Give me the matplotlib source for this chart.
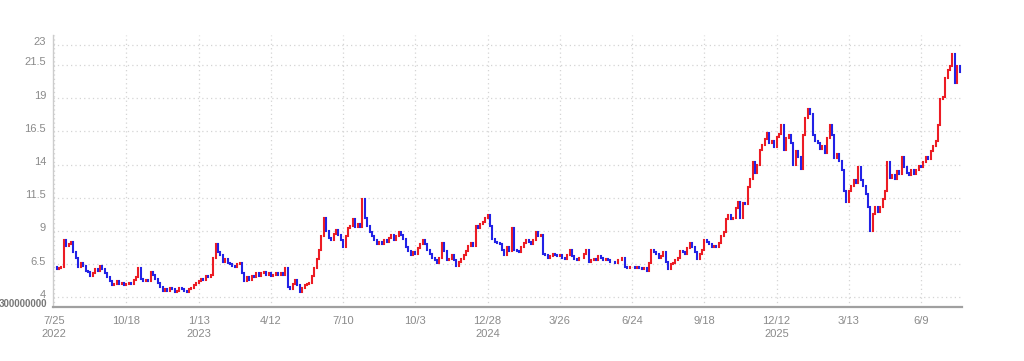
import matplotlib
matplotlib.use("Agg")
import matplotlib.pyplot as plt
import matplotlib.transforms as mtransforms
import numpy as np

plt.rcParams['font.family'] = ['Liberation Sans', 'DejaVu Sans']

# closing prices, one every 2 trading days starting 7/25/2022
closes = [
    6.3, 6.1, 6.2, 6.3, 8.3, 7.9, 8.0, 8.2, 7.4, 7.0,
    6.3, 6.6, 6.4, 6.0, 5.9, 5.6, 5.8, 6.1, 6.0, 6.4,
    6.1, 5.8, 5.5, 5.2, 4.9, 5.0, 5.2, 5.0, 5.1, 4.9,
    5.0, 5.1, 5.0, 5.3, 5.5, 6.2, 5.4, 5.2, 5.3, 5.2,
    5.9, 5.7, 5.4, 5.1, 4.8, 4.5, 4.6, 4.5, 4.7, 4.6,
    4.4, 4.5, 4.7, 4.6, 4.5, 4.4, 4.6, 4.7, 4.9, 5.1,
    5.2, 5.4, 5.3, 5.6, 5.5, 5.7, 7.0, 8.0, 7.4, 7.2,
    6.7, 6.9, 6.6, 6.5, 6.4, 6.3, 6.5, 6.6, 5.8, 5.2,
    5.5, 5.3, 5.6, 5.5, 5.8, 5.6, 5.8, 5.9, 5.7, 5.8,
    5.6, 5.7, 5.8, 5.7, 5.8, 5.7, 6.2, 4.8, 4.6, 5.0,
    5.3, 4.9, 4.4, 4.7, 4.9, 5.0, 5.1, 5.6, 6.2, 6.9,
    7.6, 8.6, 10.0, 9.0, 8.5, 8.3, 8.8, 9.1, 8.7, 8.3,
    7.8, 8.6, 9.2, 9.4, 9.9, 9.3, 9.5, 9.3, 11.4, 10.0,
    9.4, 8.9, 8.6, 8.3, 8.0, 8.2, 8.0, 8.3, 8.2, 8.5,
    8.7, 8.3, 8.6, 8.9, 8.7, 8.4, 7.8, 7.5, 7.2, 7.4,
    7.3, 7.7, 8.0, 8.3, 8.0, 7.6, 7.3, 7.0, 6.8, 6.6,
    7.0, 8.1, 7.5, 6.8, 6.9, 7.2, 6.8, 6.4, 6.7, 6.9,
    7.2, 7.5, 7.9, 8.1, 7.9, 9.4, 9.2, 9.5, 9.7, 10.0,
    10.2, 9.4, 8.4, 8.2, 8.1, 8.0, 7.6, 7.2, 7.8, 7.5,
    9.2, 7.6, 7.5, 7.4, 7.8, 8.1, 8.3, 8.2, 8.0, 8.3,
    8.9, 8.6, 8.7, 7.3, 7.2, 7.0, 7.1, 7.3, 7.2, 7.1,
    7.2, 7.0, 6.9, 7.2, 7.6, 7.1, 6.9, 6.8, 7.0, 7.0,
    7.3, 7.6, 6.7, 6.8, 6.9, 6.8, 7.1, 7.0, 6.8, 6.9,
    6.8, 6.7, 6.7, 6.6, 6.8, 6.8, 7.0, 6.3, 6.2, 6.3,
    6.3, 6.2, 6.3, 6.2, 6.1, 6.2, 6.0, 6.6, 7.6, 7.4,
    7.3, 7.0, 7.1, 7.4, 6.7, 6.1, 6.5, 6.6, 6.8, 7.0,
    7.5, 7.4, 7.3, 7.7, 8.1, 7.8, 7.4, 6.9, 7.3, 7.6,
    8.3, 8.2, 8.0, 7.8, 7.9, 7.8, 8.1, 8.6, 8.9, 9.9,
    10.2, 9.9, 10.0, 10.7, 11.2, 10.0, 11.1, 11.0, 12.3, 12.9,
    14.2, 13.4, 14.0, 15.1, 15.5, 15.9, 16.4, 15.6, 15.8, 15.3,
    16.1, 16.3, 17.0, 15.1, 16.0, 16.2, 15.6, 14.0, 15.0, 14.6,
    13.7, 16.2, 17.5, 18.2, 17.8, 16.2, 15.8, 15.6, 15.2, 15.4,
    14.9, 16.0, 17.0, 16.2, 14.5, 14.8, 14.3, 13.6, 12.0, 11.2,
    12.0, 12.4, 12.8, 12.6, 13.8, 12.8, 12.4, 11.8, 10.8, 9.0,
    10.3, 10.8, 10.4, 10.8, 11.4, 12.0, 14.2, 13.0, 13.2, 12.9,
    13.5, 13.3, 14.6, 13.8, 13.4, 13.2, 13.6, 13.3, 13.6, 13.9,
    13.8, 14.2, 14.6, 14.4, 15.0, 15.4, 15.8, 17.0, 18.9, 19.1,
    20.5, 21.1, 21.4, 22.3, 20.1, 21.4, 21.0,
]
tick_labels = ['7/25\n2022', '10/18', '1/13\n2023', '4/12', '7/10', '10/3',
               '12/28\n2024', '3/26', '6/24', '9/18', '12/12\n2025', '3/13', '6/9']
y_ticks = [4, 6.5, 9, 11.5, 14, 16.5, 19, 21.5, 23]

closes = np.array(closes)
opens = np.concatenate([[closes[0]], closes[:-1]])
idx = np.arange(len(closes)) * 2
up = closes >= opens

fig = plt.figure(figsize=(10.24, 3.61), dpi=100)
ax = fig.add_axes([53 / 1024, 54.3 / 361, 909 / 1024, 271.7 / 361])

for mask, col in [(up, '#ec1c24'), (~up, '#2222e6')]:
    lc = ax.vlines(idx[mask], opens[mask], closes[mask], colors=col, linewidth=1.5)
    lc.set_capstyle('projecting')

ax.set_xlim(-1, 754)
ax.set_ylim(3.3, 23.75)
ax.set_xticks(np.arange(len(tick_labels)) * 60)
ax.set_xticklabels(tick_labels, linespacing=1.3)
ax.set_yticks(y_ticks)
ax.set_yticklabels(['4', '6.5', '9', '11.5', '14', '16.5', '19', '21.5', '23'])
ax.tick_params(axis='both', length=0, labelsize=8, labelcolor='#8a8a8a')
ax.tick_params(axis='x', pad=7)
ax.tick_params(axis='y', pad=5)
shift = mtransforms.ScaledTranslation(0, 0.035, fig.dpi_scale_trans)
for lab in ax.get_yticklabels():
    lab.set_transform(lab.get_transform() + shift)
ax.grid(True, color='#d4d4d4', linestyle=(0, (1, 2.5)), linewidth=0.9)
ax.set_axisbelow(True)

for s in ['top', 'right']:
    ax.spines[s].set_visible(False)
ax.spines['left'].set_color('#cccccc')
ax.spines['left'].set_linewidth(1.0)
ax.spines['bottom'].set_color('#a0a0a0')
ax.spines['bottom'].set_linewidth(1.6)

fig.text(47 / 1024, 1 - 304 / 361, '300000000', ha='right', va='center',
         fontsize=7, fontweight='bold', color='#777777')

fig.savefig('out.png', dpi=100)
